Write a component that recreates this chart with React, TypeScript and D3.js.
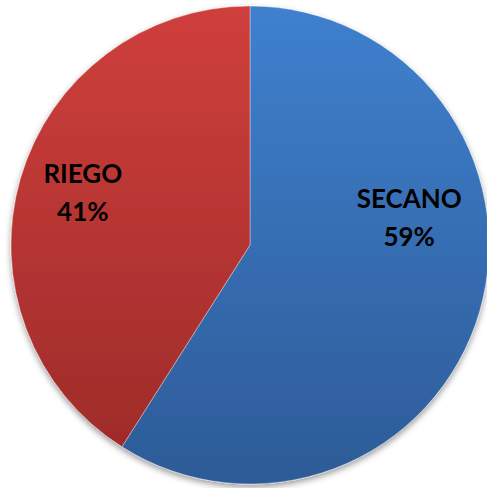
import React, { useEffect, useRef } from 'react';
import * as d3 from 'd3';

const categories = ['SECANO', 'RIEGO'];
const values = [59, 41];
const topColors = ['#3f80ce', '#cf3f3c'];
const bottomColors = ['#2d5b97', '#9b2a28'];

const W = 487;
const H = 488;

const App: React.FC = () => {
  const ref = useRef<SVGSVGElement>(null);

  useEffect(() => {
    if (!ref.current) return;
    const svg = d3.select(ref.current);
    svg.selectAll('*').remove();

    const cx = 250;
    const cy = 245;
    const radius = 239;

    const defs = svg.append('defs');
    categories.forEach((c, i) => {
      const grad = defs.append('linearGradient')
        .attr('id', `grad-${i}`)
        .attr('gradientUnits', 'userSpaceOnUse')
        .attr('x1', 0).attr('y1', -radius)
        .attr('x2', 0).attr('y2', radius);
      grad.append('stop').attr('offset', '0%').attr('stop-color', topColors[i]);
      grad.append('stop').attr('offset', '100%').attr('stop-color', bottomColors[i]);
    });

    const shadow = defs.append('filter')
      .attr('id', 'shadow')
      .attr('x', '-10%').attr('y', '-10%')
      .attr('width', '120%').attr('height', '125%');
    shadow.append('feDropShadow')
      .attr('dx', 0).attr('dy', 3)
      .attr('stdDeviation', 3)
      .attr('flood-color', '#000')
      .attr('flood-opacity', 0.4);

    const g = svg.append('g').attr('transform', `translate(${cx},${cy})`);

    const pie = d3.pie<number>().sort(null).value(d => d);
    const arcs = pie(values);
    const arc = d3.arc<d3.PieArcDatum<number>>().innerRadius(0).outerRadius(radius);

    const slices = g.append('g').attr('filter', 'url(#shadow)');
    slices.selectAll('path')
      .data(arcs)
      .enter()
      .append('path')
      .attr('d', arc)
      .attr('fill', (_d, i) => `url(#grad-${i})`)
      .attr('stroke', 'rgba(255,255,255,0.35)')
      .attr('stroke-width', 1);

    // label placement relative to the slice centroid (Excel "best fit")
    const labelArc = d3.arc<d3.PieArcDatum<number>>().innerRadius(0).outerRadius(radius * 1.3);
    const nudges = [[10, -80], [-18, -19]];

    const labels = g.append('g')
      .style('font-family', 'Lato, "Open Sans", sans-serif')
      .style('font-weight', 'bold')
      .style('font-size', '26px')
      .attr('fill', '#000')
      .attr('text-anchor', 'middle');

    arcs.forEach((a, i) => {
      const [lx, ly] = labelArc.centroid(a);
      const x = lx + nudges[i][0];
      const y = ly + nudges[i][1];
      const t = labels.append('text').attr('x', x).attr('y', y);
      t.append('tspan').attr('x', x).attr('dy', 0).text(categories[i]);
      t.append('tspan').attr('x', x).attr('dy', 38).text(`${values[i]}%`);
    });
  }, []);

  return (
    <svg
      ref={ref}
      width={W}
      height={H}
      style={{ position: 'absolute', left: 0, top: 0, background: '#fff' }}
    />
  );
};

export default App;
